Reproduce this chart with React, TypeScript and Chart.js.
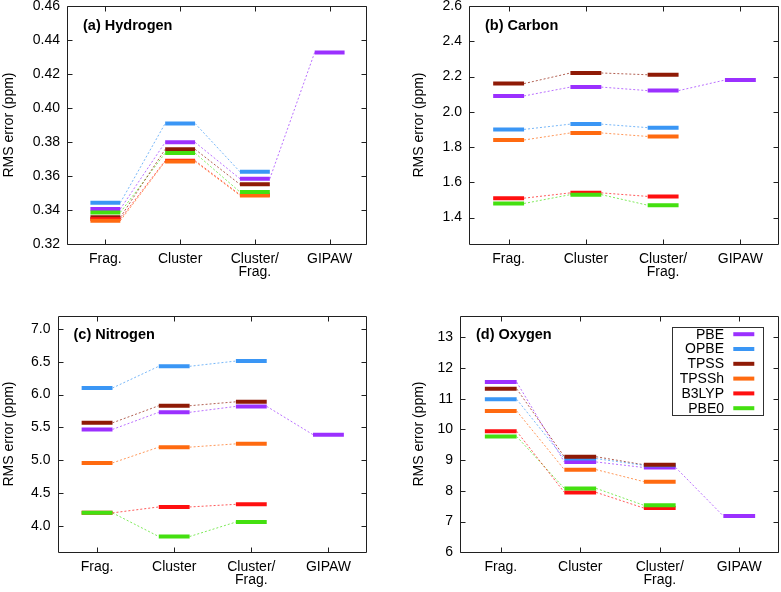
import React, { useEffect, useRef } from 'react';
import { Chart, registerables } from 'chart.js';

Chart.register(...registerables);

// ---------- data ----------
const categories: (string | string[])[] = ['Frag.', 'Cluster', ['Cluster/', 'Frag.'], 'GIPAW'];
const methods = ['PBE', 'OPBE', 'TPSS', 'TPSSh', 'B3LYP', 'PBE0'];
const methodColors = ['#9b30ff', '#3a96f5', '#8f1a06', '#ff6a10', '#ff1010', '#44e010'];

// rows follow `methods`, columns follow `categories`
const hydrogenRms: (number | null)[][] = [
  [0.3406, 0.3798, 0.3584, 0.4327],
  [0.3443, 0.3909, 0.3625, null],
  [0.3357, 0.3757, 0.3551, null],
  [0.3337, 0.3685, 0.3486, null],
  [0.3347, 0.369, 0.349, null],
  [0.3386, 0.3735, 0.3506, null],
];
const carbonRms: (number | null)[][] = [
  [2.09, 2.14, 2.12, 2.18],
  [1.9, 1.93, 1.91, null],
  [2.16, 2.22, 2.21, null],
  [1.84, 1.88, 1.86, null],
  [1.51, 1.54, 1.52, null],
  [1.48, 1.53, 1.47, null],
];
const nitrogenRms: (number | null)[][] = [
  [5.47, 5.73, 5.82, 5.39],
  [6.1, 6.43, 6.51, null],
  [5.57, 5.83, 5.89, null],
  [4.96, 5.2, 5.25, null],
  [4.2, 4.29, 4.33, null],
  [4.2, 3.84, 4.06, null],
];
const oxygenRms: (number | null)[][] = [
  [11.54, 8.94, 8.76, 7.18],
  [10.98, 9.05, 8.83, null],
  [11.32, 9.11, 8.85, null],
  [10.6, 8.69, 8.3, null],
  [9.94, 7.95, 7.44, null],
  [9.77, 8.08, 7.53, null],
];

const hydrogenTickLabels = ['0.32', '0.34', '0.36', '0.38', '0.40', '0.42', '0.44', '0.46'];
const carbonTickLabels = ['1.4', '1.6', '1.8', '2.0', '2.2', '2.4', '2.6'];
const nitrogenTickLabels = ['4.0', '4.5', '5.0', '5.5', '6.0', '6.5', '7.0'];
const oxygenTickLabels = ['6', '7', '8', '9', '10', '11', '12', '13'];

const yTitle = 'RMS error (ppm)';

// ---------- layout / style ----------
const FONT = "'Liberation Sans', Arial, Helvetica, sans-serif";
const BAR_HALF = 0.2;
// lower value = drawn on top (Chart.js dataset order)
const drawOrder = [6, 5, 4, 2, 3, 1];

interface PanelCfg {
  title: string;
  values: (number | null)[][];
  tickLabels: string[];
  min: number;
  max: number;
  left: number;
  top: number;
  width: number;
  height: number;
  padLeft: number;
  yAxisWidth: number;
  padRight: number;
  padTop: number;
  xAxisHeight: number;
  legend: boolean;
}

const panels: PanelCfg[] = [
  { title: '(a) Hydrogen', values: hydrogenRms, tickLabels: hydrogenTickLabels, min: 0.32, max: 0.46,
    left: 0, top: 0, width: 400, height: 296, padLeft: 0, yAxisWidth: 68, padRight: 33, padTop: 6, xAxisHeight: 52, legend: false },
  { title: '(b) Carbon', values: carbonRms, tickLabels: carbonTickLabels, min: 1.25, max: 2.6,
    left: 400, top: 0, width: 381, height: 296, padLeft: 10, yAxisWidth: 60, padRight: 2, padTop: 6, xAxisHeight: 52, legend: false },
  { title: '(c) Nitrogen', values: nitrogenRms, tickLabels: nitrogenTickLabels, min: 3.6, max: 7.2,
    left: 0, top: 296, width: 400, height: 296, padLeft: 0, yAxisWidth: 58.5, padRight: 33, padTop: 19.7, xAxisHeight: 39.7, legend: false },
  { title: '(d) Oxygen', values: oxygenRms, tickLabels: oxygenTickLabels, min: 6, max: 13.7,
    left: 400, top: 296, width: 381, height: 296, padLeft: 10, yAxisWidth: 51, padRight: 2, padTop: 19.7, xAxisHeight: 39.7, legend: true },
];

function buildDatasets(values: (number | null)[][]) {
  const bars = values.map((row, s) => {
    const pts: { x: number; y: number | null }[] = [];
    row.forEach((v, i) => {
      if (v == null) return;
      pts.push({ x: i - BAR_HALF, y: v }, { x: i + BAR_HALF, y: v }, { x: i + BAR_HALF, y: null });
    });
    return {
      type: 'line' as const,
      label: methods[s],
      data: pts,
      borderColor: methodColors[s],
      borderWidth: 4,
      borderCapStyle: 'butt' as const,
      pointRadius: 0,
      spanGaps: false,
      fill: false,
      order: drawOrder[s],
    };
  });
  const links = values.map((row, s) => {
    const pts: { x: number; y: number | null }[] = [];
    for (let i = 0; i < row.length - 1; i++) {
      const a = row[i];
      const b = row[i + 1];
      if (a == null || b == null) continue;
      pts.push({ x: i + BAR_HALF, y: a }, { x: i + 1 - BAR_HALF, y: b }, { x: i + 1 - BAR_HALF, y: null });
    }
    return {
      type: 'line' as const,
      label: methods[s] + ' link',
      data: pts,
      borderColor: methodColors[s] + 'b0',
      borderWidth: 1,
      borderDash: [2, 2],
      pointRadius: 0,
      spanGaps: false,
      fill: false,
      order: 10,
    };
  });
  return [...bars, ...links];
}

function Panel({ cfg }: { cfg: PanelCfg }) {
  const ref = useRef<HTMLCanvasElement>(null);
  useEffect(() => {
    const tickValues = cfg.tickLabels.map(Number);
    const framePlugin = {
      id: 'frame' + cfg.title,
      afterDatasetsDraw(chart: any) {
        const { ctx, chartArea } = chart;
        const { left, right, top, bottom } = chartArea;
        const xs = chart.scales.x;
        const ys = chart.scales.y;
        ctx.save();
        ctx.strokeStyle = '#202020';
        ctx.lineWidth = 1;
        const L = Math.round(left) - 0.5;
        const R = Math.round(right) - 0.5;
        const T = Math.round(top) + 0.5;
        const B = Math.round(bottom) + 0.5;
        ctx.beginPath();
        ctx.rect(L, T, R - L, B - T);
        const tl = 5;
        tickValues.forEach((v) => {
          const py = Math.round(ys.getPixelForValue(v)) + 0.5;
          ctx.moveTo(L, py);
          ctx.lineTo(L + tl, py);
          ctx.moveTo(R, py);
          ctx.lineTo(R - tl, py);
        });
        categories.forEach((_, i) => {
          const px = Math.round(xs.getPixelForValue(i)) + 0.5;
          ctx.moveTo(px, B);
          ctx.lineTo(px, B - tl);
          ctx.moveTo(px, T);
          ctx.lineTo(px, T + tl);
        });
        ctx.stroke();

        ctx.fillStyle = '#000';
        ctx.font = `bold 14.5px ${FONT}`;
        ctx.textAlign = 'left';
        ctx.textBaseline = 'middle';
        ctx.fillText(cfg.title, left + 15, top + 19.5);

        if (cfg.legend) {
          const bw = 91;
          const bh = 88;
          const bx = right - 16.3 - bw;
          const by = top + 11;
          ctx.strokeStyle = '#303030';
          ctx.lineWidth = 1;
          ctx.strokeRect(Math.round(bx) + 0.5, Math.round(by) + 0.5, bw, bh);
          ctx.font = `14px ${FONT}`;
          ctx.textAlign = 'right';
          methods.forEach((m, i) => {
            const cy = by + 7.5 + i * 14.8;
            ctx.fillStyle = '#000';
            ctx.fillText(m, bx + bw - 38.7, cy + 0.5);
            ctx.strokeStyle = methodColors[i];
            ctx.lineWidth = 4;
            ctx.beginPath();
            ctx.moveTo(bx + bw - 29.4, cy);
            ctx.lineTo(bx + bw - 8.4, cy);
            ctx.stroke();
          });
        }
        ctx.restore();
      },
    };

    const chart = new Chart(ref.current!, {
      type: 'line',
      data: { datasets: buildDatasets(cfg.values) as any },
      options: {
        animation: false,
        responsive: false,
        maintainAspectRatio: false,
        devicePixelRatio: 1,
        layout: { padding: { left: cfg.padLeft, right: cfg.padRight, top: cfg.padTop, bottom: 0 } },
        plugins: { legend: { display: false }, tooltip: { enabled: false }, title: { display: false } },
        scales: {
          x: {
            type: 'linear',
            min: -0.5,
            max: 3.5,
            grid: { display: false, drawTicks: false },
            border: { display: false },
            ticks: {
              autoSkip: false,
              maxRotation: 0,
              padding: 8,
              color: '#000',
              font: { family: FONT, size: 14, lineHeight: 0.96 },
              callback: (v: any) => categories[Math.round(Number(v))] as any,
            },
            afterBuildTicks: (s: any) => {
              s.ticks = categories.map((_, i) => ({ value: i }));
            },
            afterFit: (s: any) => {
              s.height = cfg.xAxisHeight;
              s.paddingLeft = 0;
              s.paddingRight = 0;
            },
          },
          y: {
            type: 'linear',
            min: cfg.min,
            max: cfg.max,
            grid: { display: false, drawTicks: false },
            border: { display: false },
            ticks: {
              padding: 8,
              color: '#000',
              font: { family: FONT, size: 14 },
              callback: (v: any) => {
                const idx = tickValues.findIndex((t) => Math.abs(t - Number(v)) < 1e-9);
                return idx >= 0 ? cfg.tickLabels[idx] : '';
              },
            },
            afterBuildTicks: (s: any) => {
              s.ticks = tickValues.map((v) => ({ value: v }));
            },
            afterFit: (s: any) => {
              s.width = cfg.yAxisWidth;
              s.paddingTop = 0;
              s.paddingBottom = 0;
            },
            title: {
              display: true,
              text: yTitle,
              color: '#000',
              font: { family: FONT, size: 14 },
              padding: { top: 1, bottom: 0 },
            },
          },
        },
      },
      plugins: [framePlugin],
    });
    return () => chart.destroy();
  }, [cfg]);
  return (
    <canvas
      ref={ref}
      width={cfg.width}
      height={cfg.height}
      style={{ position: 'absolute', left: cfg.left, top: cfg.top, width: cfg.width, height: cfg.height }}
    />
  );
}

export default function App() {
  return (
    <div style={{ position: 'absolute', left: 0, top: 0, width: 781, height: 592, background: '#fff' }}>
      {panels.map((p) => (
        <Panel key={p.title} cfg={p} />
      ))}
    </div>
  );
}
